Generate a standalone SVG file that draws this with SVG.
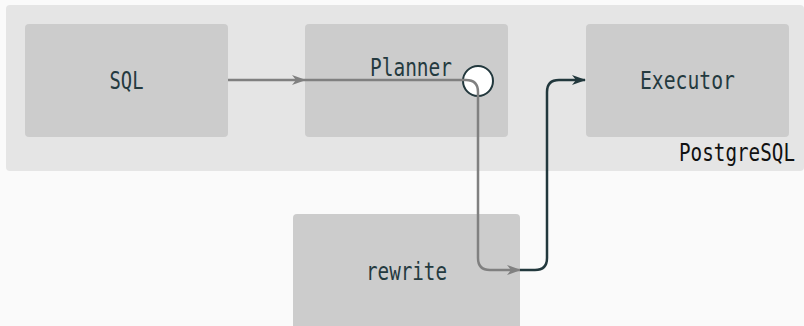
<svg xmlns="http://www.w3.org/2000/svg" width="804" height="326" viewBox="0 0 804 326">
  <style>
    .box { fill: #cccccc; }
    .label { font-family: "DejaVu Sans Mono", "Liberation Mono", monospace; font-size: 25px; fill: #243a3f; text-anchor: middle; }
    .gray { fill: none; stroke: #808080; stroke-width: 2.5; }
    .dark { fill: none; stroke: #22383d; stroke-width: 2.5; }
  </style>
  <defs>
    <marker id="arrow-gray" viewBox="0 0 14 10" refX="13" refY="5" markerWidth="14" markerHeight="10" markerUnits="userSpaceOnUse" orient="auto">
      <path d="M0,0 L14,5 L0,10 L4,5 z" fill="#808080"/>
    </marker>
    <marker id="arrow-dark" viewBox="0 0 14 10" refX="13" refY="5" markerWidth="14" markerHeight="10" markerUnits="userSpaceOnUse" orient="auto">
      <path d="M0,0 L14,5 L0,10 L4,5 z" fill="#22383d"/>
    </marker>
  </defs>

  <!-- page background -->
  <rect x="0" y="0" width="804" height="326" fill="#fafafa"/>

  <!-- PostgreSQL cluster -->
  <g id="cluster-postgresql">
    <rect x="6" y="5" width="798" height="166" rx="4" fill="#e5e5e5"/>
    <text class="label" x="795" y="161" style="text-anchor: end; fill: #111111;" textLength="116" lengthAdjust="spacingAndGlyphs">PostgreSQL</text>
  </g>

  <g id="node-sql">
    <rect class="box" x="25" y="24" width="203" height="113" rx="4"/>
    <text class="label" x="126.5" y="89" textLength="34" lengthAdjust="spacingAndGlyphs">SQL</text>
  </g>

  <g id="node-planner">
    <rect class="box" x="305" y="24" width="203" height="113" rx="4"/>
    <text class="label" x="411" y="76" textLength="82" lengthAdjust="spacingAndGlyphs">Planner</text>
    <circle cx="478" cy="81" r="15" fill="#ffffff" stroke="#22383d" stroke-width="2"/>
  </g>

  <g id="node-executor">
    <rect class="box" x="586" y="24" width="203" height="113" rx="4"/>
    <text class="label" x="687.5" y="89" textLength="95" lengthAdjust="spacingAndGlyphs">Executor</text>
  </g>

  <g id="node-rewrite">
    <rect class="box" x="293" y="214" width="227" height="118" rx="4"/>
    <text class="label" x="406.5" y="280" textLength="81" lengthAdjust="spacingAndGlyphs">rewrite</text>
  </g>

  <g id="connectors">
    <path class="gray" d="M228,80 H305" marker-end="url(#arrow-gray)"/>
    <path class="gray" d="M305,80 H466 Q478,80 478,92 V258 Q478,270 490,270 H520" marker-end="url(#arrow-gray)"/>
    <path class="dark" d="M520,270 H535 Q547,270 547,258 V92 Q547,80 559,80 H585" marker-end="url(#arrow-dark)"/>
  </g>
</svg>
